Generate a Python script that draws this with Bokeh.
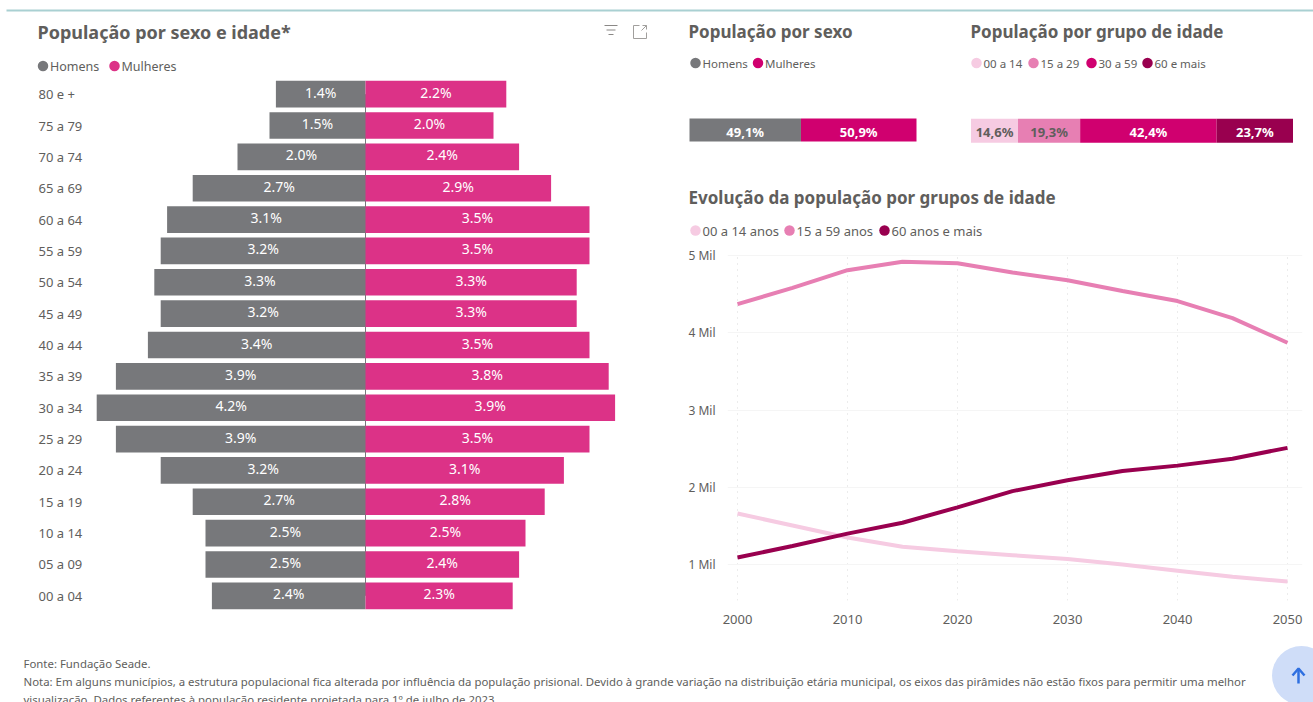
from bokeh.embed import file_html
from bokeh.resources import INLINE
from bokeh.layouts import column, row
from bokeh.models import FactorRange, FixedTicker, Range1d
from bokeh.plotting import figure
from bokeh.core.properties import value

# ---- data ----
age_groups = ["80 e +", "75 a 79", "70 a 74", "65 a 69", "60 a 64", "55 a 59", "50 a 54", "45 a 49", "40 a 44",
              "35 a 39", "30 a 34", "25 a 29", "20 a 24", "15 a 19", "10 a 14", "05 a 09", "00 a 04"]
men_pct = [1.4, 1.5, 2.0, 2.7, 3.1, 3.2, 3.3, 3.2, 3.4, 3.9, 4.2, 3.9, 3.2, 2.7, 2.5, 2.5, 2.4]
women_pct = [2.2, 2.0, 2.4, 2.9, 3.5, 3.5, 3.3, 3.3, 3.5, 3.8, 3.9, 3.5, 3.1, 2.8, 2.5, 2.4, 2.3]

sex_names = ["Homens", "Mulheres"]
sex_share = [49.1, 50.9]
group_names = ["00 a 14", "15 a 29", "30 a 59", "60 e mais"]
group_share = [14.6, 19.3, 42.4, 23.7]

years = [2000, 2005, 2010, 2015, 2020, 2025, 2030, 2035, 2040, 2045, 2050]
pop_00_14 = [1.66, 1.505, 1.35, 1.23, 1.17, 1.12, 1.07, 1.00, 0.92, 0.84, 0.78]
pop_15_59 = [4.37, 4.58, 4.81, 4.92, 4.90, 4.78, 4.68, 4.54, 4.41, 4.19, 3.87]
pop_60_up = [1.09, 1.24, 1.40, 1.54, 1.74, 1.95, 2.09, 2.21, 2.28, 2.37, 2.51]
mil_ticks = [1, 2, 3, 4, 5]
year_ticks = [2000, 2010, 2020, 2030, 2040, 2050]

# ---- styles ----
FONT = "Noto Sans"
TITLE_COLOR = "#605E5C"
TEXT_COLOR = "#605E5C"
GRAY = "#77787B"
PYRAMID_PINK = "#DC3287"
STRONG_PINK = "#D0006F"
PALE = "#F6CBE2"
MID = "#E77FB3"
DARK = "#99004F"
RULE = "#A9D0D2"
PX_PER_PCT = 64.0


def panel(x0, y0, x1, y1):
    """A borderless panel whose two axes both run in page pixels."""
    return figure(width=x1 - x0, height=y1 - y0, x_range=Range1d(x0, x1), y_range=Range1d(y1, y0),
                  x_axis_type=None, y_axis_type=None, toolbar_location=None, output_backend="svg",
                  min_border=0, outline_line_color=None, background_fill_color="white",
                  border_fill_color="white", frame_align=False)


def write(p, x, y, text, size=12, color=TEXT_COLOR, bold=False, align="left", **kw):
    p.text(x=[x], y=[y], text=[text], text_font=value(FONT), text_font_size=f"{size}px", text_color=color,
           text_font_style="bold" if bold else "normal", text_align=align, text_baseline="middle", **kw)


def legend_row(p, y, names, colors, dot_centers, size=12.5):
    for name, col, cx in zip(names, colors, dot_centers):
        p.scatter(x=[cx], y=[y], size=10.5, marker="circle", fill_color=col, line_color=None)
        write(p, cx + 7, y, name, size=size)


# ---- top rule ----
rule = panel(0, 0, 1313, 14)
rule.segment(x0=[6], y0=[10], x1=[1313], y1=[10], line_color=RULE, line_width=2)

# ---- pyramid header ----
head = panel(0, 14, 660, 75)
write(head, 37, 31, "População por sexo e idade*", size=18, color=TITLE_COLOR, bold=True)
legend_row(head, 65.5, sex_names, [GRAY, PYRAMID_PINK], [42.5, 114])
# filter and expand icons
head.segment(x0=[604, 606, 608], y0=[25, 29.5, 34], x1=[617, 615, 613], y1=[25, 29.5, 34],
             line_color="#8A8886", line_width=1)
head.multi_line(xs=[[639, 633, 633, 646, 646], [641, 646], [642, 646, 646]],
                ys=[[25, 25, 38, 38, 32], [30, 25], [25, 25, 29]],
                line_color="#A19F9D", line_width=1)

# ---- pyramid ----
pyr = figure(width=660, height=565, x_range=Range1d(-365 / PX_PER_PCT, 295 / PX_PER_PCT),
             y_range=FactorRange(factors=age_groups[::-1], range_padding=0, factor_padding=0),
             x_axis_type=None, y_axis_type=None, toolbar_location=None, output_backend="svg",
             min_border_left=0, min_border_right=0, min_border_top=3, min_border_bottom=29,
             outline_line_color=None, background_fill_color="white", border_fill_color="white",
             frame_align=False)
pyr.segment(x0=[0], y0=[age_groups[-1]], x1=[0], y1=[age_groups[0]], line_color=GRAY, line_width=1)
pyr.hbar(y=age_groups, left=[-v for v in men_pct], right=[0] * len(men_pct), height=0.85,
         fill_color=GRAY, line_color=None)
pyr.hbar(y=age_groups, left=[0] * len(women_pct), right=women_pct, height=0.85,
         fill_color=PYRAMID_PINK, line_color=None)
pyr.text(x=[(38 - 365) / PX_PER_PCT] * len(age_groups), y=age_groups, text=age_groups, text_font=value(FONT),
         text_font_size="13px", text_color=TEXT_COLOR, text_baseline="middle", y_offset=0)
pyr.text(x=[-v / 2 for v in men_pct], y=age_groups, text=[f"{v:.1f}%" for v in men_pct], text_font=value(FONT),
         text_font_size="14px", text_color="white", text_align="center", text_baseline="middle", y_offset=-2)
pyr.text(x=[v / 2 for v in women_pct], y=age_groups, text=[f"{v:.1f}%" for v in women_pct], text_font=value(FONT),
         text_font_size="14px", text_color="white", text_align="center", text_baseline="middle", y_offset=-2)


# ---- stacked share bars ----
def share_bar(p, start, px_per_unit, shares, colors, text_colors, y, thickness):
    edge = 0.0
    for share, col, tcol in zip(shares, colors, text_colors):
        left = start + edge * px_per_unit
        right = start + (edge + share) * px_per_unit
        p.hbar(y=[y], left=[left], right=[right], height=thickness, fill_color=col, line_color=None)
        write(p, (left + right) / 2, y + 1.5, f"{share:.1f}%".replace(".", ","), size=13, color=tcol, bold=True, align="center")
        edge += share


sex_panel = panel(660, 14, 960, 175)
write(sex_panel, 688, 31, "População por sexo", size=17, color=TITLE_COLOR, bold=True)
legend_row(sex_panel, 62.5, sex_names, [GRAY, STRONG_PINK], [695, 757.5], size=11.5)
share_bar(sex_panel, 689, 2.27, sex_share, [GRAY, STRONG_PINK], ["white", "white"], 129.5, 23)

age_panel = panel(960, 14, 1313, 175)
write(age_panel, 970, 31, "População por grupo de idade", size=17, color=TITLE_COLOR, bold=True)
legend_row(age_panel, 62.5, group_names, [PALE, MID, STRONG_PINK, DARK], [976, 1033, 1091, 1147], size=11.5)
share_bar(age_panel, 970.5, 3.22, group_share, [PALE, MID, STRONG_PINK, DARK], [TEXT_COLOR, TEXT_COLOR, "white", "white"], 130.3, 24)

# ---- evolution chart ----
evo_head = panel(660, 175, 1313, 240)
write(evo_head, 688, 197, "Evolução da população por grupos de idade", size=17, color=TITLE_COLOR, bold=True)
legend_row(evo_head, 230, ["00 a 14 anos", "15 a 59 anos", "60 anos e mais"], [PALE, MID, DARK], [695, 789, 884], size=13)

evo = figure(width=653, height=400, x_range=Range1d(2000 - 10 / 11, 2050 + 15 / 11),
             y_range=Range1d(1 - 36 / 77.25, 5 + 2 / 77.25), toolbar_location=None, output_backend="svg",
             min_border_left=67, min_border_right=11, min_border_top=13, min_border_bottom=40,
             outline_line_color=None, background_fill_color="white", border_fill_color="white",
             frame_align=False)
evo.line(years, pop_00_14, line_color=PALE, line_width=4)
evo.line(years, pop_15_59, line_color=MID, line_width=4)
evo.line(years, pop_60_up, line_color=DARK, line_width=4)
evo.xaxis.ticker = FixedTicker(ticks=year_ticks)
evo.yaxis.ticker = FixedTicker(ticks=mil_ticks)
evo.yaxis.major_label_overrides = {v: f"{v} Mil" for v in mil_ticks}
evo.axis.axis_line_color = None
evo.axis.major_tick_line_color = None
evo.axis.minor_tick_line_color = None
evo.axis.major_label_text_font = FONT
evo.axis.major_label_text_color = TEXT_COLOR
evo.xaxis.major_label_text_font_size = "13px"
evo.yaxis.major_label_text_font_size = "12px"
evo.xaxis.major_label_standoff = 8
evo.yaxis.major_label_standoff = 6
evo.ygrid.grid_line_color = "#F5F5F5"
evo.xgrid.grid_line_color = "#D9D9D9"
evo.xgrid.grid_line_dash = "1 5"

# ---- footnote and scroll button ----
foot = panel(0, 640, 1313, 702)
write(foot, 23, 663, "Fonte: Fundação Seade.", size=11.4)
write(foot, 23, 681, "Nota: Em alguns municípios, a estrutura populacional fica alterada por influência da população "
      "prisional. Devido à grande variação na distribuição etária municipal, os eixos das pirâmides não estão fixos "
      "para permitir uma melhor", size=11.4)
write(foot, 23, 699, "visualização. Dados referentes à população residente projetada para 1º de julho de 2023.", size=11.4)
foot.scatter(x=[1301], y=[675], size=59, marker="circle", fill_color="#CFDDF8", line_color=None)
foot.multi_line(xs=[[1298, 1298], [1292, 1298, 1304]], ys=[[669, 683], [675, 668, 675]],
                line_color="#2F6FE0", line_width=2.5)

page = column(rule,
              row(column(head, pyr), column(row(sex_panel, age_panel), evo_head, evo)),
              foot)
open("out.html", "w").write(file_html(page, INLINE))
